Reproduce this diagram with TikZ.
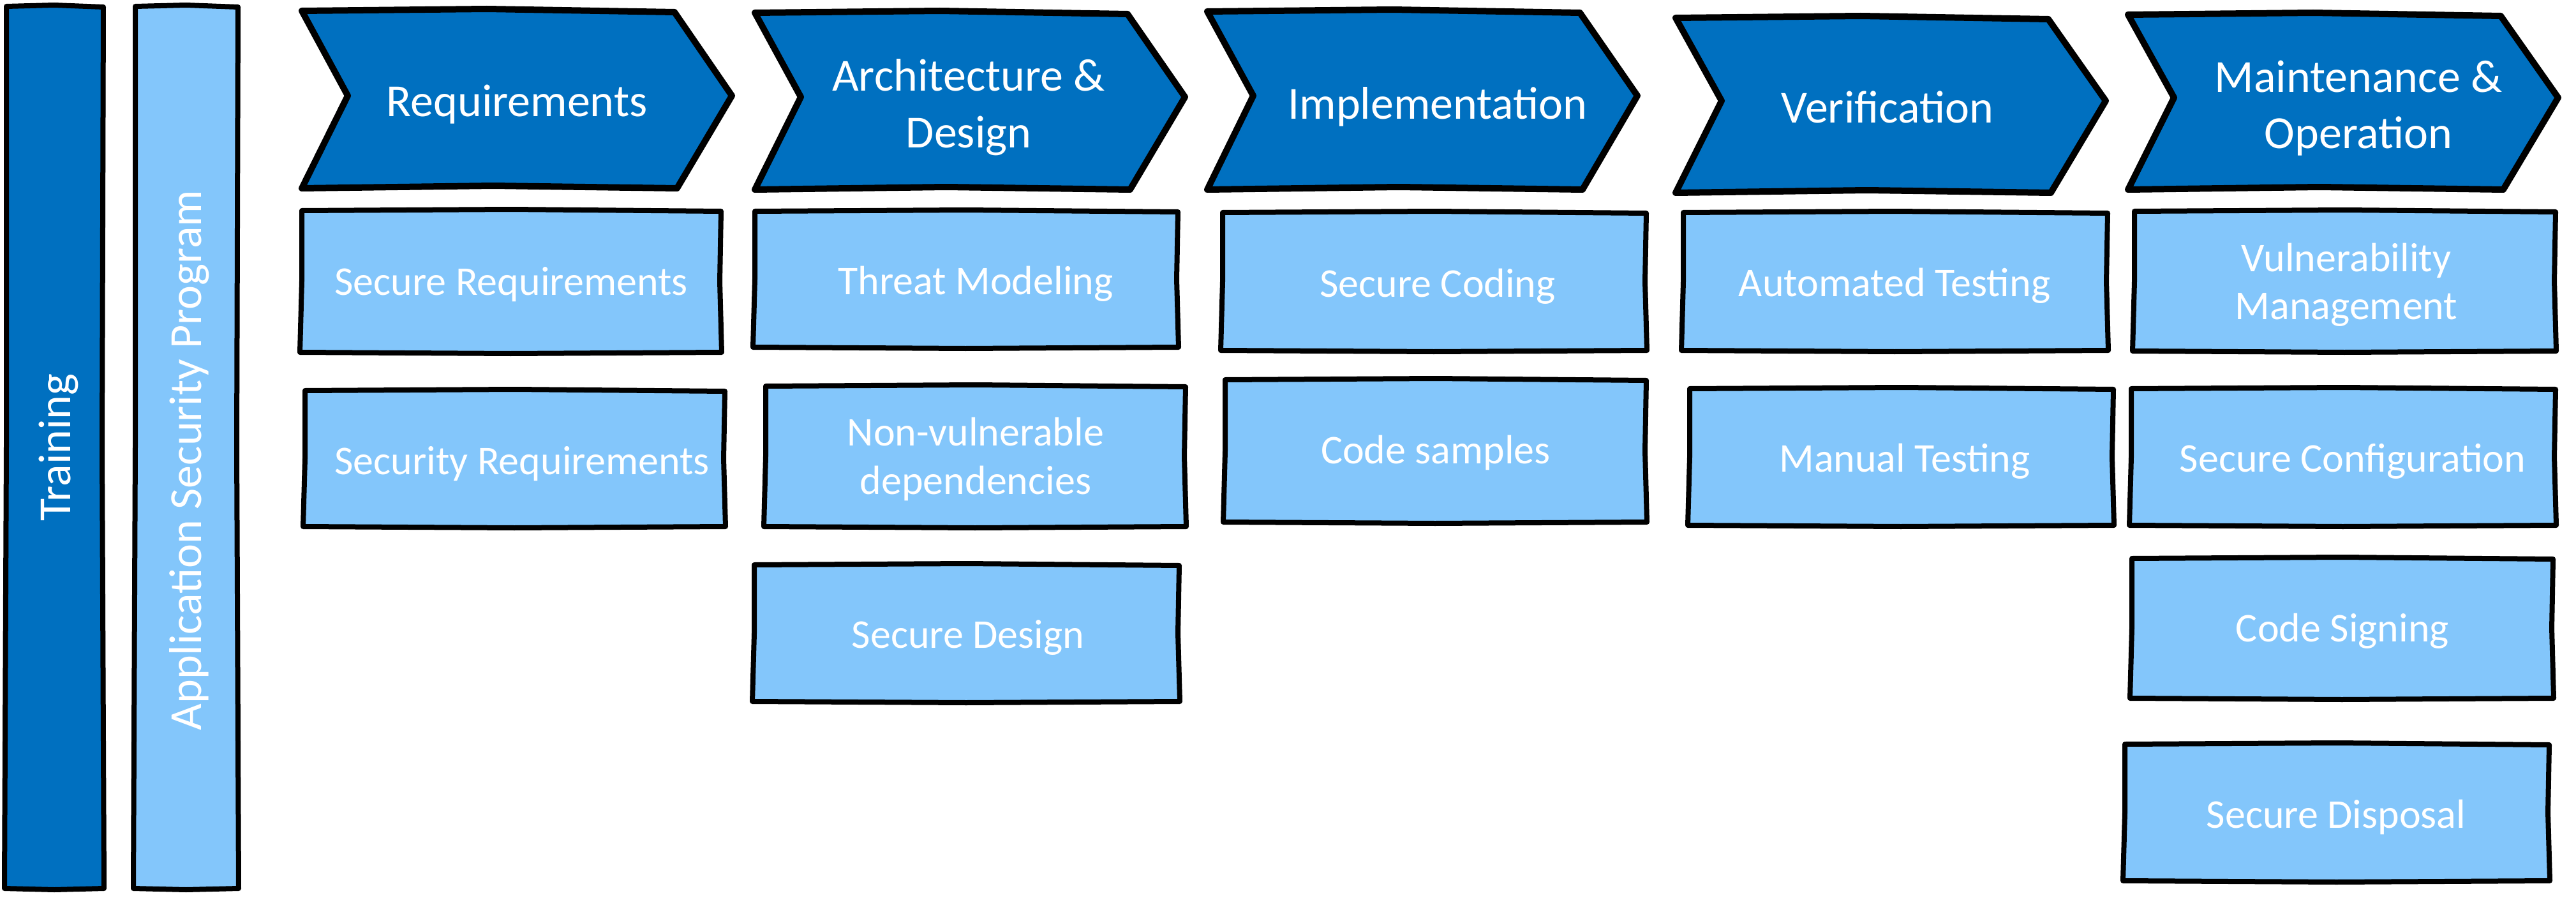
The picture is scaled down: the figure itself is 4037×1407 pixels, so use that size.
\documentclass[tikz,border=0pt]{standalone}
\usepackage{fontspec}
\setmainfont{Carlito}
\definecolor{dkblue}{RGB}{0,112,192}
\definecolor{ltblue}{RGB}{131,198,251}
% sketchy rectangle: style, x1, y1, x2, y2
\newcommand\skrect[5]{%
  \draw[#1] ({#2+2},{#3}) -- ({(#2+#4)/2},{#3-2}) -- ({#4},{#3+1})
    -- ({#4-2},{(#3+#5)/2}) -- ({#4+1},{#5}) -- ({(#2+#4)/2},{#5+2})
    -- ({#2-1},{#5}) -- ({#2+2},{(#3+#5)/2}) -- cycle;}
% chevron: left x, top y, bottom y, mid y
\newcommand\skchev[4]{%
  \draw[chev] ({#1},{#2}) -- ({#1+290},{#2-3}) -- ({#1+584},{#2+2})
    -- ({#1+674},{#4}) -- ({#1+588},{#3}) -- ({#1+300},{#3-4})
    -- ({#1},{#3}) -- ({#1+72},{#4}) -- cycle;}
\begin{document}
\begin{tikzpicture}[x=1pt,y=-1pt,
  chev/.style={draw=black, fill=dkblue, line width=10pt, line join=round},
  bx/.style={draw=black, fill=ltblue, line width=8pt, line join=round},
  dbar/.style={draw=black, fill=dkblue, line width=8pt, line join=round},
  big/.style={text=white, font=\fontsize{72}{88}\selectfont, inner sep=0pt, anchor=base},
  sml/.style={text=white, font=\fontsize{64}{77}\selectfont, inner sep=0pt, anchor=base}]
\useasboundingbox (0,0) rectangle (4037,1407);

% left bars
\skrect{dbar}{8}{10}{162}{1392}
\skrect{bx}{210}{10}{373}{1392}
\node[big, rotate=90] (training) at (110,701) {Training};
\node[big, rotate=90] (asp) at (315,721) {Application Security Program};

% chevrons
\skchev{473}{17}{295}{150}
\skchev{1183}{20}{297}{152}
\skchev{1892}{18}{297}{150}
\skchev{2626}{28}{302}{158}
\skchev{3335}{23}{297}{153}
\node[big] (req) at (810,183) {Requirements};
\node[big] (arch1) at (1518,143) {Architecture \&};
\node[big] (arch2) at (1518,232) {Design};
\node[big] (impl) at (2253,187) {Implementation};
\node[big] (verif) at (2958,193) {Verification};
\node[big] (maint1) at (3696,145) {Maintenance \&};
\node[big] (maint2) at (3696,233) {Operation};

% column 1
\skrect{bx}{471}{330}{1130}{552}
\skrect{bx}{476}{612}{1136}{825}
\node[sml] (sreq) at (801,462) {Secure Requirements};
\node[sml] (secreq) at (818,743) {Security Requirements};

% column 2
\skrect{bx}{1181}{331}{1846}{544}
\skrect{bx}{1198}{605}{1858}{825}
\skrect{bx}{1180}{885}{1848}{1099}
\node[sml] (threat) at (1529,461) {Threat Modeling};
\node[sml] (nonv1) at (1529,698) {Non-vulnerable};
\node[sml] (nonv2) at (1529,774) {dependencies};
\node[sml] (sdes) at (1517,1015) {Secure Design};

% column 3
\skrect{bx}{1914}{333}{2580}{549}
\skrect{bx}{1918}{595}{2580}{818}
\node[sml] (scode) at (2253,465) {Secure Coding};
\node[sml] (csamp) at (2250,726) {Code samples};

% column 4
\skrect{bx}{2636}{333}{3303}{549}
\skrect{bx}{2646}{609}{3312}{823}
\node[sml] (auto) at (2969,464) {Automated Testing};
\node[sml] (manual) at (2985,739) {Manual Testing};

% column 5
\skrect{bx}{3343}{331}{4005}{550}
\skrect{bx}{3338}{609}{4005}{823}
\skrect{bx}{3339}{875}{4001}{1094}
\skrect{bx}{3328}{1166}{3995}{1380}
\node[sml] (vuln1) at (3677,425) {Vulnerability};
\node[sml] (vuln2) at (3677,500) {Management};
\node[sml] (sconf) at (3687,739) {Secure Configuration};
\node[sml] (csign) at (3671,1005) {Code Signing};
\node[sml] (sdisp) at (3661,1297) {Secure Disposal};
\end{tikzpicture}
\end{document}
